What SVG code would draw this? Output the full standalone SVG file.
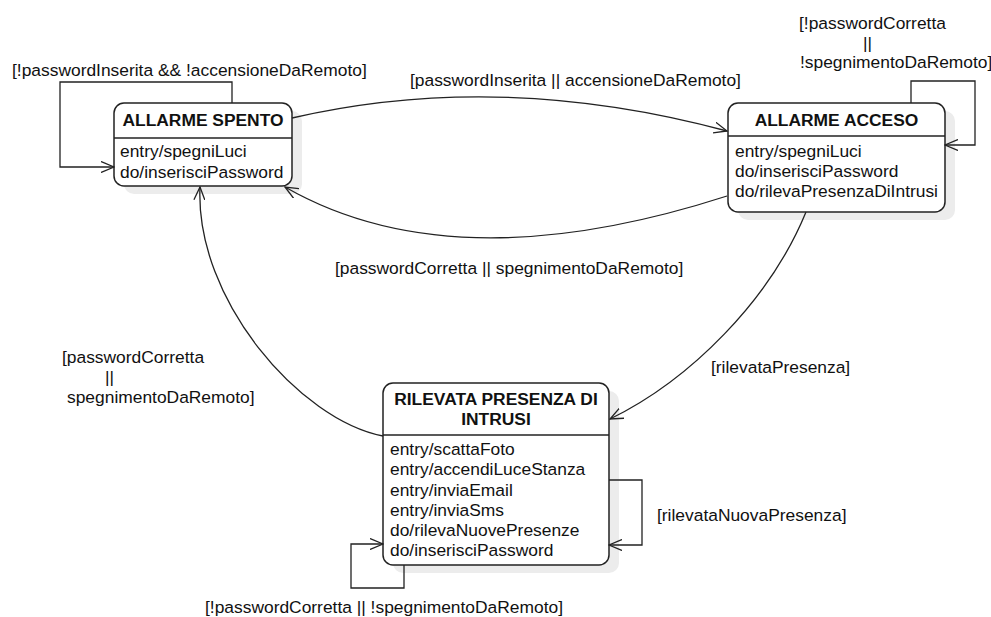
<svg xmlns="http://www.w3.org/2000/svg" width="991" height="617" viewBox="0 0 991 617">
  <style>
    text { font-family: "Liberation Sans", Arial, sans-serif; font-size: 17.4px; fill: #111; }
    .title { font-weight: bold; text-anchor: middle; }
    .box { fill: #fff; stroke: #222; stroke-width: 1.5; }
    .shadow { fill: #ececec; stroke: none; }
    .sep { stroke: #222; stroke-width: 1.5; }
    .edge { fill: none; stroke: #222; stroke-width: 1.3; marker-end: url(#arrow); }
  </style>
  <defs>
    <marker id="arrow" viewBox="0 0 14 12" refX="13" refY="6" markerWidth="14" markerHeight="12" markerUnits="userSpaceOnUse" orient="auto">
      <path d="M0,0.5 L13,6 L0,11.5" fill="none" stroke="#222" stroke-width="1.3"/>
    </marker>
  </defs>
  <rect width="991" height="617" fill="#fff"/>

  <!-- states -->
  <g id="allarme-spento">
    <rect class="shadow" x="124" y="111" width="178" height="83" rx="10"/>
    <rect class="box" x="114" y="103" width="178" height="83" rx="10"/>
    <line class="sep" x1="114" y1="138" x2="292" y2="138"/>
    <text class="title" x="203" y="126">ALLARME SPENTO</text>
    <text x="120" y="157">entry/spegniLuci</text>
    <text x="120" y="177.5">do/inserisciPassword</text>
  </g>

  <g id="allarme-acceso">
    <rect class="shadow" x="738" y="111" width="217" height="109" rx="10"/>
    <rect class="box" x="728" y="103" width="217" height="109" rx="10"/>
    <line class="sep" x1="728" y1="136" x2="945" y2="136"/>
    <text class="title" x="836.5" y="126">ALLARME ACCESO</text>
    <text x="735" y="157">entry/spegniLuci</text>
    <text x="735" y="177">do/inserisciPassword</text>
    <text x="735" y="197">do/rilevaPresenzaDiIntrusi</text>
  </g>

  <g id="rilevata-presenza">
    <rect class="shadow" x="393" y="391" width="226" height="182" rx="10"/>
    <rect class="box" x="383" y="383" width="226" height="182" rx="10"/>
    <line class="sep" x1="383" y1="435" x2="609" y2="435"/>
    <text class="title" x="496" y="405">RILEVATA PRESENZA DI</text>
    <text class="title" x="496" y="424.5">INTRUSI</text>
    <text x="390" y="455">entry/scattaFoto</text>
    <text x="390" y="475">entry/accendiLuceStanza</text>
    <text x="390" y="495.5">entry/inviaEmail</text>
    <text x="390" y="515.5">entry/inviaSms</text>
    <text x="390" y="535.5">do/rilevaNuovePresenze</text>
    <text x="390" y="556">do/inserisciPassword</text>
  </g>

  <!-- transitions -->
  <g id="connectors">
    <path class="edge" d="M232,103 V82 H60 V167 H114"/>
    <path class="edge" d="M292,118 Q500,70 727,131"/>
    <path class="edge" d="M727,196 Q454,284 285,187"/>
    <path class="edge" d="M911,103 V81 H975 V145 H945"/>
    <path class="edge" d="M806,212 C770,300 690,380 610,419"/>
    <path class="edge" d="M383,436 C300,420 195,300 200,187"/>
    <path class="edge" d="M609,480 H642 V545 H609"/>
    <path class="edge" d="M404,565 V588 H351 V544 H383"/>
  </g>

  <!-- guard labels -->
  <g id="labels">
    <text x="12" y="76">[!passwordInserita &amp;&amp; !accensioneDaRemoto]</text>
    <text x="410" y="86">[passwordInserita || accensioneDaRemoto]</text>
    <text x="335" y="274">[passwordCorretta || spegnimentoDaRemoto]</text>
    <text x="799" y="29">[!passwordCorretta</text>
    <text x="863" y="48.5">||</text>
    <text x="800" y="68">!spegnimentoDaRemoto]</text>
    <text x="62" y="363">[passwordCorretta</text>
    <text x="105" y="383">||</text>
    <text x="67" y="403">spegnimentoDaRemoto]</text>
    <text x="711" y="373">[rilevataPresenza]</text>
    <text x="657" y="521">[rilevataNuovaPresenza]</text>
    <text x="205" y="613">[!passwordCorretta || !spegnimentoDaRemoto]</text>
  </g>
</svg>
